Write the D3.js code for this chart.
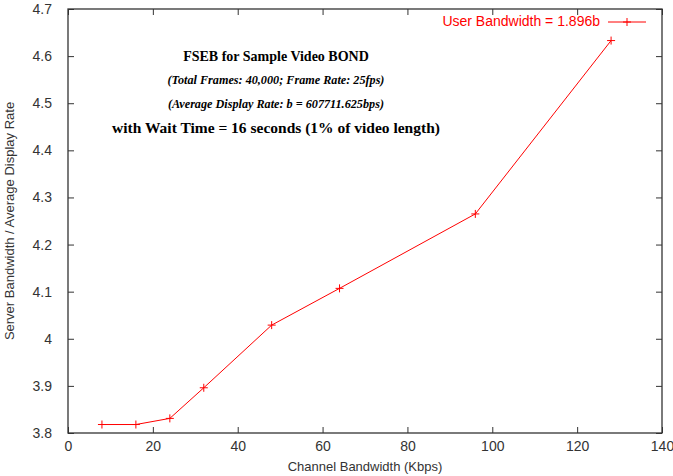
<html>
<head>
<meta charset="utf-8">
<title>FSEB BOND</title>
<style type="text/css">
body { margin: 0; background: #fff; }
svg { font-family: "Liberation Sans", Arial, sans-serif; }
.tick text { fill: #333; font-size: 14px; }
.title { font-family: "Liberation Serif", "Times New Roman", serif; font-weight: bold; fill: #000; }
.series { fill: none; stroke: #f00; stroke-width: 1px; }
</style>
</head>
<body>
<script src="https://d3js.org/d3.v7.min.js"></script>
<script>
// data
var bandwidth = [8, 16, 24, 32, 48, 64, 96, 128];
var ratio     = [3.818, 3.818, 3.831, 3.896, 4.029, 4.107, 4.265, 4.633];
var xTicks = [0, 20, 40, 60, 80, 100, 120, 140];
var yTicks = [3.8, 3.9, 4, 4.1, 4.2, 4.3, 4.4, 4.5, 4.6, 4.7];
var titleLines = [
  "FSEB for Sample Video BOND",
  "(Total Frames: 40,000; Frame Rate: 25fps)",
  "(Average Display Rate: b = 607711.625bps)",
  "with Wait Time = 16 seconds (1% of video length)"
];
var legendLabel = "User Bandwidth = 1.896b";

var W = 673, H = 476;
var m = [9, 11, 43, 68]; // top right bottom left
var w = W - m[1] - m[3], h = H - m[0] - m[2];

var xs = d3.scaleLinear().domain([0, 140]).range([0, w]),
    ys = d3.scaleLinear().domain([3.8, 4.7]).range([h, 0]);

var svg = d3.select("body").append("svg")
    .attr("width", W).attr("height", H)
  .append("g")
    .attr("transform", "translate(" + m[3] + "," + m[0] + ")");

var fmt = function(d) { return String(d); };

// axes, gnuplot style: inward ticks, mirrored
function styleAxis(g) {
  g.select(".domain").remove();
  g.selectAll(".tick line").attr("stroke", "#333");
}
svg.append("g").attr("transform", "translate(0," + h + ")")
  .call(d3.axisBottom(xs).tickValues(xTicks).tickFormat(fmt).tickSizeInner(-6).tickSizeOuter(0).tickPadding(8))
  .call(styleAxis);
svg.append("g")
  .call(d3.axisTop(xs).tickValues(xTicks).tickFormat("").tickSizeInner(-6).tickSizeOuter(0))
  .call(styleAxis);
svg.append("g")
  .call(d3.axisLeft(ys).tickValues(yTicks).tickFormat(fmt).tickSizeInner(-6).tickSizeOuter(0).tickPadding(16))
  .call(styleAxis);
svg.append("g").attr("transform", "translate(" + w + ",0)")
  .call(d3.axisRight(ys).tickValues(yTicks).tickFormat("").tickSizeInner(-6).tickSizeOuter(0))
  .call(styleAxis);
svg.selectAll(".tick text").attr("font-family", "Liberation Sans, Arial, sans-serif");

svg.append("rect")
  .attr("x", 0).attr("y", 0).attr("width", w).attr("height", h)
  .attr("fill", "none").attr("stroke", "#333").attr("stroke-width", 1.3);

// axis titles
svg.append("text")
  .attr("x", w / 2).attr("y", h + 38)
  .attr("text-anchor", "middle").attr("font-size", 13).attr("fill", "#333")
  .text("Channel Bandwidth (Kbps)");
svg.append("text")
  .attr("transform", "translate(" + (-54) + "," + (h / 2) + ") rotate(-90)")
  .attr("text-anchor", "middle").attr("font-size", 13).attr("fill", "#333")
  .text("Server Bandwidth / Average Display Rate");

// title block
var tY = [52, 75, 99, 124], tSize = [14, 12.2, 12.2, 15.5];
titleLines.forEach(function(t, i) {
  svg.append("text")
    .attr("class", "title")
    .attr("x", 208).attr("y", tY[i])
    .attr("text-anchor", "middle")
    .attr("font-size", tSize[i])
    .attr("font-style", (i === 1 || i === 2) ? "italic" : "normal")
    .text(t);
});

// series
var pts = bandwidth.map(function(b, i) { return [b, ratio[i]]; });
svg.append("path")
  .attr("class", "series")
  .attr("d", d3.line().x(function(d) { return xs(d[0]); }).y(function(d) { return ys(d[1]); })(pts));

function plus(cx, cy) {
  svg.append("path")
    .attr("d", "M" + (cx - 4) + "," + cy + "h8M" + cx + "," + (cy - 4) + "v8")
    .attr("stroke", "#f00").attr("stroke-width", 1).attr("fill", "none");
}
pts.forEach(function(d) { plus(xs(d[0]), ys(d[1])); });

// legend
svg.append("text")
  .attr("x", 532).attr("y", 17)
  .attr("text-anchor", "end").attr("font-size", 14).attr("fill", "#f00")
  .text(legendLabel);
svg.append("line")
  .attr("x1", 540).attr("x2", 578).attr("y1", 13).attr("y2", 13)
  .attr("stroke", "#f00");
plus(559, 13);
</script>
</body>
</html>
